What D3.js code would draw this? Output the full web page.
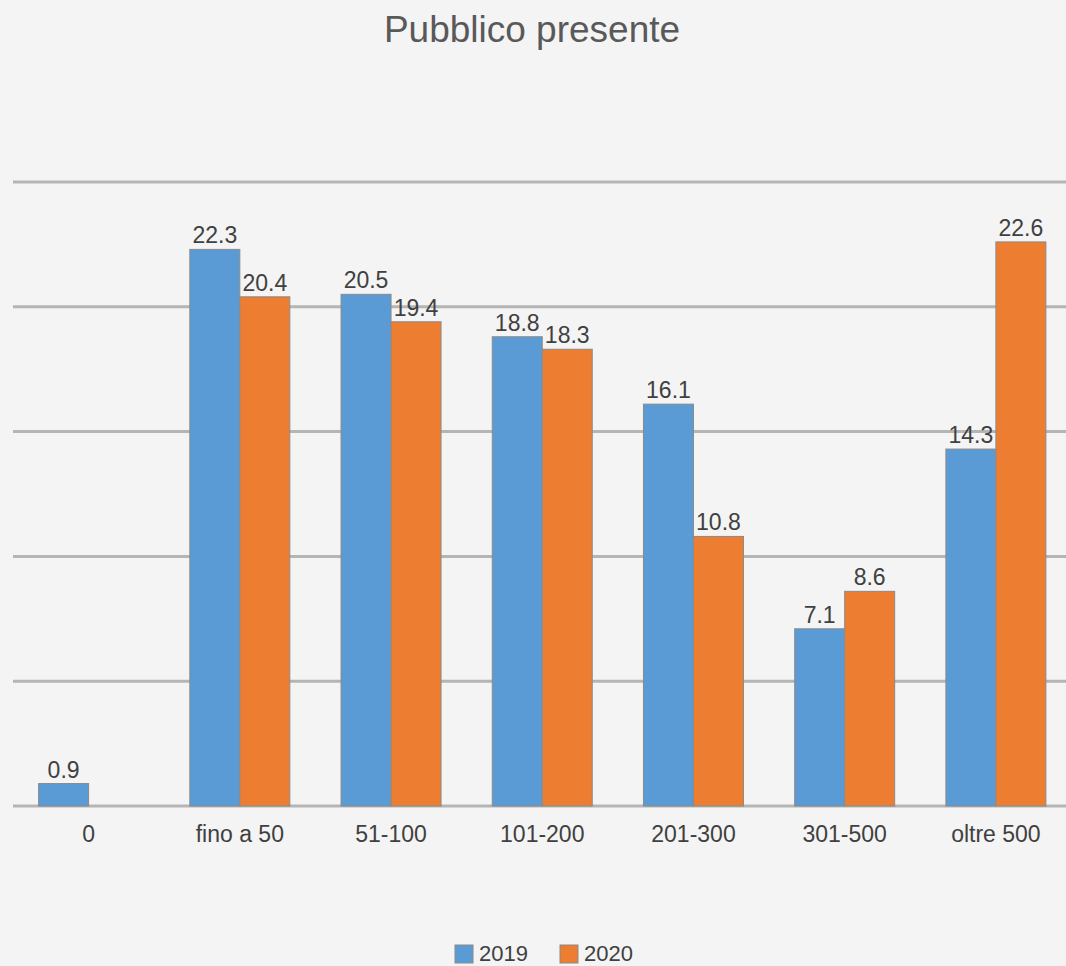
<!DOCTYPE html>
<html><head><meta charset="utf-8">
<script src="https://cdn.jsdelivr.net/npm/d3@7"></script>
<style>html,body{margin:0;padding:0;background:#f4f4f4;}svg{display:block;}</style>
</head><body>
<script>
const categories = ["0","fino a 50","51-100","101-200","201-300","301-500","oltre 500"];
const seriesNames = ["2019","2020"];
const values2019 = [0.9,22.3,20.5,18.8,16.1,7.1,14.3];
const values2020 = [null,20.4,19.4,18.3,10.8,8.6,22.6];
const yTicks = [0,5,10,15,20,25];
const colors = ["#5b9bd5","#ed7d31"];

const W=1066,H=966;
const svg=d3.select("body").append("svg").attr("width",W).attr("height",H).style("background","#f4f4f4");
const font="'Liberation Sans', Arial, sans-serif";

const x=d3.scaleBand().domain(categories).range([13,1071.5]).padding(0);
const y=d3.scaleLinear().domain([0,25]).range([806,182]);
const x1=d3.scaleBand().domain(seriesNames).range([x.bandwidth()/2-50,x.bandwidth()/2+50]);

// gridlines
svg.append("g").selectAll("line").data(yTicks).join("line")
  .attr("x1",13).attr("x2",W).attr("y1",d=>y(d)).attr("y2",d=>y(d))
  .attr("stroke","#b5b5b5").attr("stroke-width",3);

// title
svg.append("text").attr("x",532).attr("y",42).attr("text-anchor","middle")
  .attr("font-family",font).attr("font-size",37).attr("fill","#595959").text("Pubblico presente");

const series=[values2019,values2020];
const data=[];
categories.forEach((c,i)=>series.forEach((s,j)=>{ if(s[i]!=null) data.push({c,s:seriesNames[j],v:s[i],j}); }));

svg.append("g").selectAll("rect").data(data).join("rect")
  .attr("x",d=>x(d.c)+x1(d.s)).attr("width",x1.bandwidth())
  .attr("y",d=>y(d.v)).attr("height",d=>y(0)-y(d.v))
  .attr("fill",d=>colors[d.j]).attr("stroke","#8a8a8a").attr("stroke-width",1);

svg.append("g").selectAll("text").data(data).join("text")
  .attr("x",d=>x(d.c)+x1(d.s)+x1.bandwidth()/2).attr("y",d=>y(d.v)-6)
  .attr("text-anchor","middle").attr("font-family",font).attr("font-size",23).attr("fill","#404040")
  .text(d=>d3.format(".1f")(d.v));

// category axis labels
const xAxis=d3.axisBottom(x).tickSize(0).tickPadding(0);
const gx=svg.append("g").attr("transform","translate(0,806)").call(xAxis);
gx.select(".domain").remove();
gx.selectAll("text").attr("y",36).attr("dy",0).attr("font-family",font).attr("font-size",23).attr("fill","#404040");

// legend
const leg=svg.append("g");
const legX=[455,560];
seriesNames.forEach((n,i)=>{
  leg.append("rect").attr("x",legX[i]).attr("y",945).attr("width",18).attr("height",18)
    .attr("fill",colors[i]).attr("stroke","#8a8a8a").attr("stroke-width",1);
  leg.append("text").attr("x",legX[i]+24).attr("y",961).attr("font-family",font).attr("font-size",22)
    .attr("fill","#404040").text(n);
});
</script>
</body></html>
